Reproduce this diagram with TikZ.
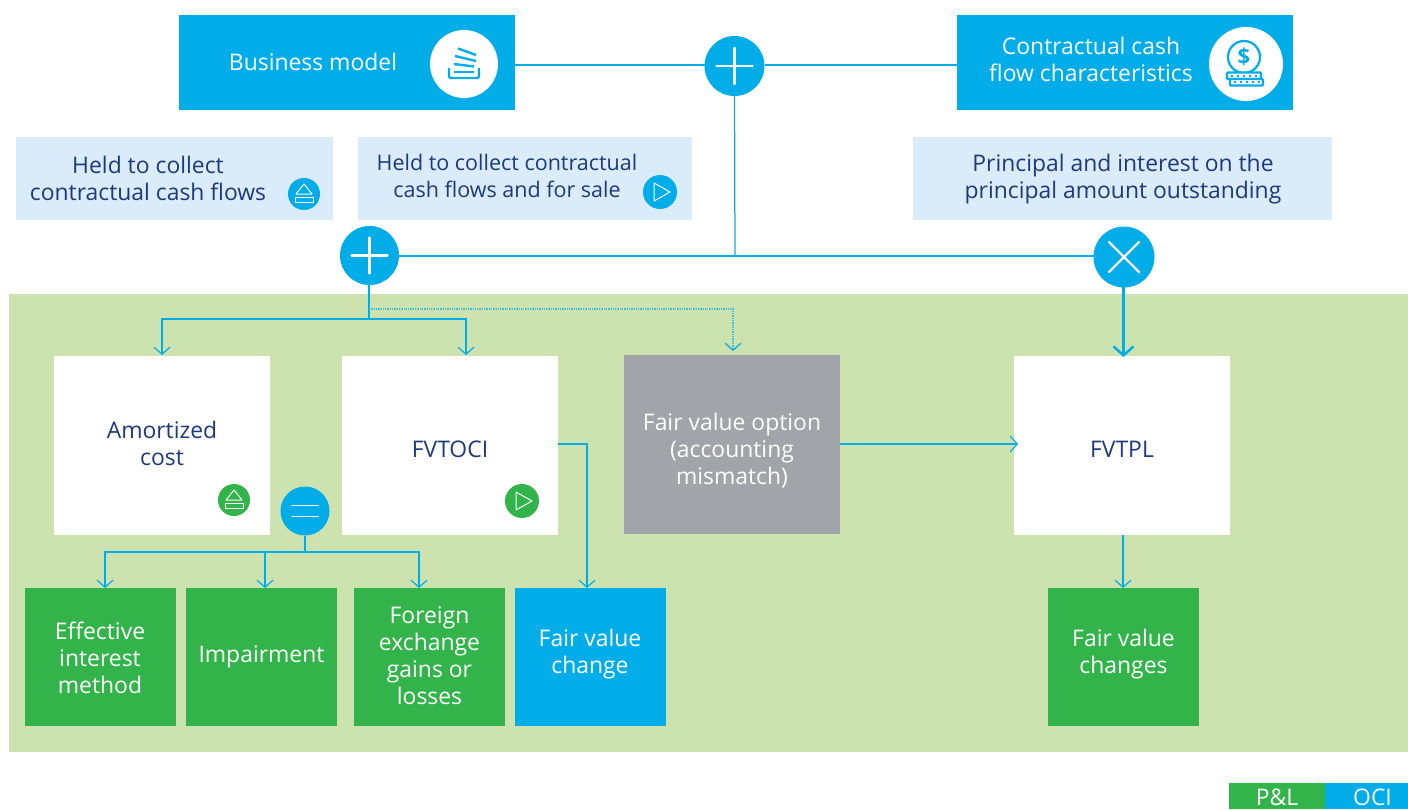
\documentclass[tikz,border=0pt]{standalone}
\usepackage{fontspec}
\setmainfont{Open Sans}
\usetikzlibrary{arrows.meta}
\definecolor{cblue}{HTML}{00ADE9}
\definecolor{cgreen}{HTML}{33B44A}
\definecolor{clight}{HTML}{DAEBF9}
\definecolor{cbg}{HTML}{CCE2AF}
\definecolor{cgray}{HTML}{A1A4A8}
\definecolor{cnavy}{HTML}{1D3A7C}
\definecolor{cdot}{HTML}{3FBBD6}
\tikzset{
  fbox/.style={rectangle,inner sep=0pt,outer sep=0pt,anchor=north west,align=center},
  txt/.style={font=\fontsize{22.9}{26.9}\selectfont,align=center,inner sep=0pt},
  wtxt/.style={txt,text=white},
  ntxt/.style={txt,text=cnavy},
  disc/.style={circle,fill=cblue,inner sep=0pt,outer sep=0pt},
  link/.style={draw=cblue,line width=1.25pt},
  tip/.style={-{Straight Barb[length=7pt,width=16pt,line width=1.2pt]}},
  sign/.style={draw=white,line width=2.4pt,line cap=round},
  glyph/.style={draw=white,line width=1pt},
}
\newcommand{\ejecticon}[2]{%
  \draw[glyph,line join=round] (#1-8,#2) -- (#1,#2-10) -- (#1+8,#2) -- cycle;
  \draw[glyph] (#1-9,#2+3) rectangle (#1+9,#2+8);
}
\newcommand{\playicon}[2]{%
  \draw[glyph,line join=round] (#1-6,#2-9) -- (#1+10,#2) -- (#1-6,#2+9) -- cycle;
}
\begin{document}
\begin{tikzpicture}[x=1pt,y=-1pt]
\useasboundingbox (0,0) rectangle (1408,809);
\node[fbox,fill=cbg,minimum width=1399pt,minimum height=458pt] (bg) at (9,294) {};
% top boxes
\node[fbox,fill=cblue,minimum width=336pt,minimum height=95pt] (biz) at (179,15) {};
\node[wtxt] (biztxt) at (313,62) {Business model};
\node[fbox,fill=cblue,minimum width=336pt,minimum height=95pt] (cash) at (957,15) {};
\node[wtxt] (cashtxt) at (1091,59.5) {Contractual cash\\flow characteristics};
\node[circle,fill=white,minimum size=68pt,inner sep=0pt] (bizicon) at (464,64) {};
\node[circle,fill=white,minimum size=74pt,inner sep=0pt] (cashicon) at (1246,64) {};
% business icon
\begin{scope}[draw=cblue,line width=2.4pt]
  \draw[rounded corners=1.5pt] (449,68) -- (449,78) -- (479,78) -- (479,68);
  \draw (454,72) -- (474,72);
  \draw (454,64) -- (474,66.5);
  \draw (455,56) -- (476,61);
  \draw (458,48.5) -- (476,55);
\end{scope}
% cash icon
\begin{scope}[draw=cblue,line width=2.2pt]
  \draw (1244,57) circle (16pt);
  \node[text=cblue,inner sep=0pt,font=\fontsize{22}{22}\selectfont\bfseries] (dollar) at (1244,57) {\$};
  \draw[fill=white,rounded corners=1pt] (1227,72.5) rectangle (1261,79);
  \draw[fill=white,rounded corners=1pt] (1230,79) rectangle (1263,85.5);
  \foreach \xx in {1232,1238,1244,1250,1256} {\draw[line width=2pt] (\xx,74.8) -- (\xx,76.8);}
  \foreach \xx in {1235,1241,1247,1253,1259} {\draw[line width=2pt] (\xx,81.2) -- (\xx,83.2);}
\end{scope}
% light boxes
\node[fbox,fill=clight,minimum width=317pt,minimum height=83pt] (hold1) at (16,137) {};
\node[ntxt] (hold1txt) at (148,178) {Held to collect\\contractual cash flows};
\node[fbox,fill=clight,minimum width=334pt,minimum height=83pt] (hold2) at (358,137) {};
\node[ntxt,font=\fontsize{21.5}{26.9}\selectfont] (hold2txt) at (507,176) {Held to collect contractual\\cash flows and for sale};
\node[fbox,fill=clight,minimum width=419pt,minimum height=83pt] (ppi) at (913,137) {};
\node[ntxt] (ppitxt) at (1123,179) {Principal and interest on the\\principal amount outstanding};
\node[disc,minimum size=32pt] (ej1) at (304,194) {};
\ejecticon{304}{194}
\node[disc,minimum size=34pt] (pl1) at (660,192) {};
\playicon{660}{192}
% operator discs
\node[disc,minimum size=60pt] (plusA) at (734.5,66) {};
\node[disc,minimum size=59pt] (plusB) at (369.5,255.5) {};
\node[disc,minimum size=61pt] (times) at (1124,257) {};
% white boxes
\node[fbox,fill=white,minimum width=216pt,minimum height=179pt] (amort) at (54,356) {};
\node[ntxt] (amorttxt) at (162,443.5) {Amortized\\cost};
\node[fbox,fill=white,minimum width=216pt,minimum height=179pt] (fvoci) at (342,356) {};
\node[ntxt] (fvocitxt) at (450,449) {FVTOCI};
\node[fbox,fill=cgray,minimum width=216pt,minimum height=179pt] (fvo) at (624,355) {};
\node[wtxt] (fvotxt) at (732,451) {Fair value option\\(accounting\\mismatch)};
\node[fbox,fill=white,minimum width=216pt,minimum height=179pt] (fvpl) at (1014,356) {};
\node[ntxt] (fvpltxt) at (1122,449) {FVTPL};
\node[circle,fill=cgreen,minimum size=32pt,inner sep=0pt] (ej2) at (234,500) {};
\ejecticon{234}{500}
\node[circle,fill=cgreen,minimum size=34pt,inner sep=0pt] (pl2) at (522,501) {};
\playicon{522}{501}
\node[disc,minimum size=49pt] (eq) at (305,511) {};
% result boxes
\node[fbox,fill=cgreen,minimum width=151pt,minimum height=138pt] (eff) at (25,588) {};
\node[wtxt] (efftxt) at (100,657.5) {Effective\\interest\\method};
\node[fbox,fill=cgreen,minimum width=151pt,minimum height=138pt] (imp) at (186,588) {};
\node[wtxt] (imptxt) at (261.5,657) {Impairment};
\node[fbox,fill=cgreen,minimum width=151pt,minimum height=138pt] (fx) at (354,588) {};
\node[wtxt] (fxtxt) at (429.5,655.5) {Foreign\\exchange\\gains or\\losses};
\node[fbox,fill=cblue,minimum width=151pt,minimum height=138pt] (fvc) at (515,588) {};
\node[wtxt] (fvctxt) at (590,654) {Fair value\\change};
\node[fbox,fill=cgreen,minimum width=151pt,minimum height=138pt] (fvcs) at (1048,588) {};
\node[wtxt] (fvcstxt) at (1123.5,654) {Fair value\\changes};
% legend
\node[fbox,fill=cgreen,minimum width=96pt,minimum height=26pt] (pl) at (1229,783) {};
\node[wtxt] (pltxt) at (1277,797) {P\&L};
\node[fbox,fill=cblue,minimum width=83pt,minimum height=26pt] (oci) at (1325,783) {};
\node[wtxt] (ocitxt) at (1372.5,797) {OCI};
% signs
\draw[sign] (plusA.center) ++(-18,0) -- ++(36,0) (plusA.center) ++(0,-18) -- ++(0,36);
\draw[sign] (plusB.center) ++(-18,0) -- ++(36,0) (plusB.center) ++(0,-18) -- ++(0,36);
\draw[sign] (times.center) ++(-15,-15) -- ++(30,30) (times.center) ++(15,-15) -- ++(-30,30);
\draw[sign,line width=1.7pt] (eq.center) ++(-13,-5.5) -- ++(26,0) (eq.center) ++(-13,5.5) -- ++(26,0);
% connector coordinates
\coordinate (tAm) at (162,355);
\coordinate (tOci) at (466,355);
\coordinate (tFvo) at (733,351);
\coordinate (d1) at (369,319);
\coordinate (d2) at (369,309);
\coordinate (e1) at (305,552);
\coordinate (tEff) at (105,588);
\coordinate (tImp) at (265,588);
\coordinate (tFx) at (419,588);
\coordinate (tFvc) at (587,588);
\coordinate (oci1) at (558,444);
\coordinate (fvoR) at (840,444);
\coordinate (fvplL) at (1018,444);
\coordinate (tX) at (1123.5,357);
\coordinate (fvplB) at (1123,535);
\coordinate (tCs) at (1123,588);
% connectors
\draw[link] (biz.east |- plusA.west) ++(0,-1) -- ++(190,0);
\draw[link] (plusA.east) ++(0,-1) -- (cash.west |- 0,65);
\draw[link] (plusA.south) -- (735,256);
\draw[link] (399,256) -- (times.west |- 0,256);
\draw[link] (369,285) -- (d1);
\draw[link,tip] (d1) -| (tAm);
\draw[link,tip] (d1) -| (tOci);
\draw[draw=cdot,line width=1.3pt,densely dotted,-{Straight Barb[length=7pt,width=16pt,line width=1.2pt,color=cblue]}] (d2) -| (tFvo);
\draw[link] (eq.south) -- (e1);
\draw[link,tip] (e1) -| (tEff);
\draw[link,tip] (e1) -| (tFx);
\draw[link,tip] (265,552) -- (tImp);
\draw[link,tip] (oci1) -| (tFvc);
\draw[link,tip] (fvoR) -- (fvplL);
\draw[link,tip] (fvplB) -- (tCs);
\draw[draw=cblue,line width=3pt,-{Straight Barb[length=9pt,width=20pt,line width=2.4pt]}] (1123.5,287) -- (tX);
\end{tikzpicture}
\end{document}
